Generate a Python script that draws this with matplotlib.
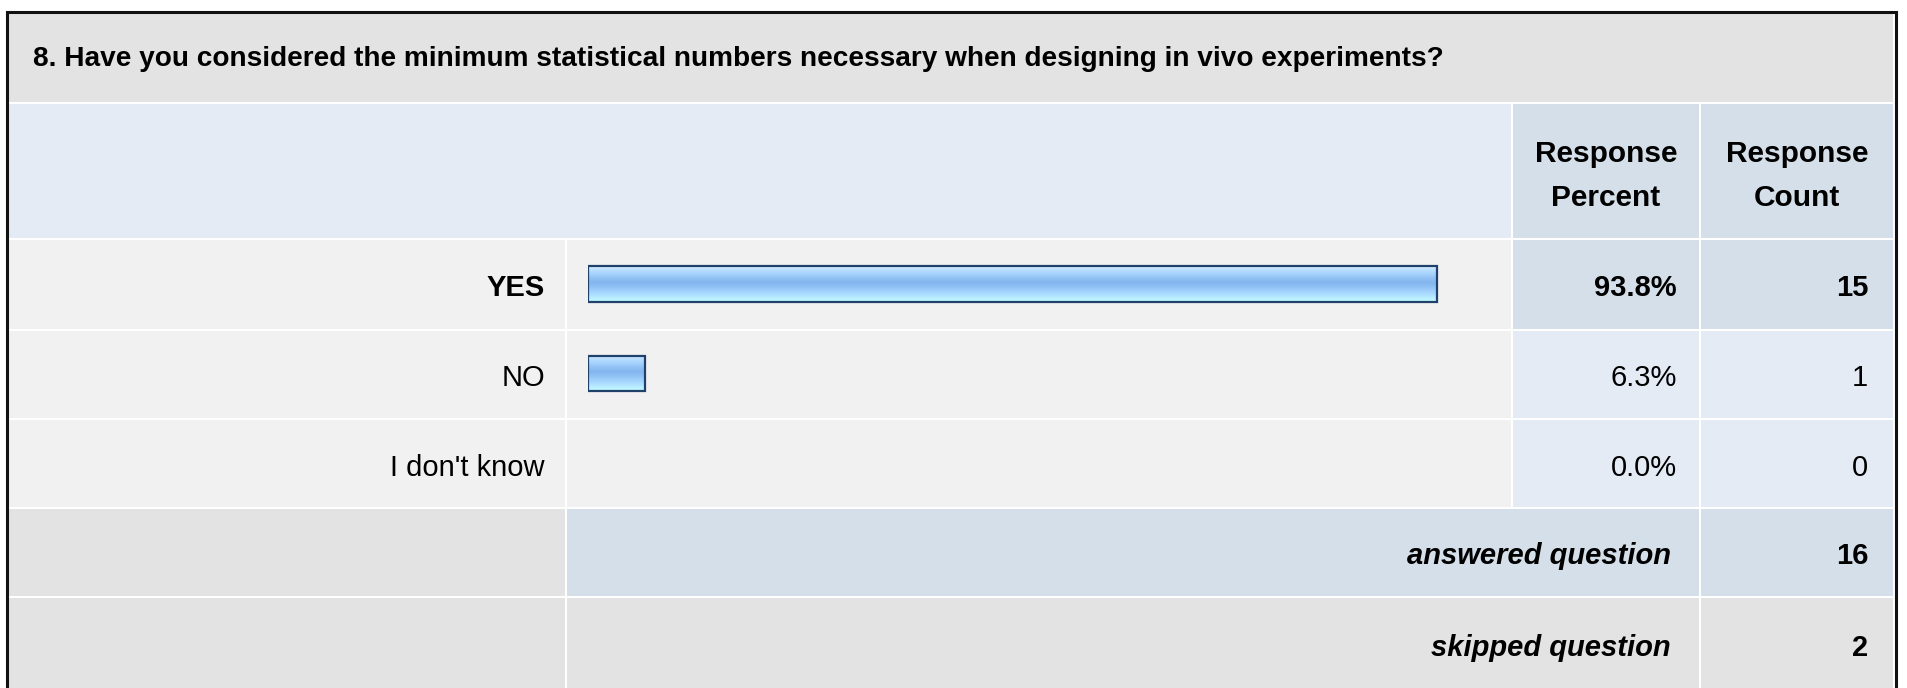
import numpy as np
import matplotlib.pyplot as plt
from matplotlib.patches import Rectangle
from matplotlib.colors import LinearSegmentedColormap

plt.rcParams['font.family'] = ['Liberation Sans', 'DejaVu Sans']

# survey data
question = "8. Have you considered the minimum statistical numbers necessary when designing in vivo experiments?"
answers = ["YES", "NO", "I don't know"]
percents = [93.8, 6.3, 0.0]
counts = [15, 1, 0]
header_pct = ["Response", "Percent"]
header_cnt = ["Response", "Count"]
summary_labels = ["answered question", "skipped question"]
summary_values = [16, 2]

W, H = 1907, 688
fig = plt.figure(figsize=(W / 100, H / 100), dpi=100)
ax = fig.add_axes([0, 0, 1, 1])
ax.set_xlim(0, W)
ax.set_ylim(H, 0)
ax.axis('off')

# table grid (pixels)
xs = [8, 566, 1512, 1700, 1894]
ys = [13, 103, 239, 330, 419, 508, 597, 690]

GRAY = '#e3e3e3'
ROW = '#f1f1f1'
LIGHT = '#e4ebf5'
DARK = '#d5dfe9'
FS = 21


def cell(x0, x1, y0, y1, color):
    ax.add_patch(Rectangle((x0 + 1, y0 + 1), x1 - x0 - 2, y1 - y0 - 2,
                           facecolor=color, edgecolor='none', zorder=1))


ax.add_patch(Rectangle((xs[0], ys[0]), xs[-1] - xs[0], ys[-1] - ys[0],
                       facecolor='white', edgecolor='none', zorder=0))

# title row
cell(xs[0], xs[4], ys[0], ys[1], GRAY)
ax.text(33, 66, question, fontsize=20.2, fontweight='bold',
        ha='left', va='baseline', zorder=3)

# header row
cell(xs[0], xs[2], ys[1], ys[2], LIGHT)
cell(xs[2], xs[3], ys[1], ys[2], DARK)
cell(xs[3], xs[4], ys[1], ys[2], DARK)
for i, (a, b) in enumerate(zip(header_pct, header_cnt)):
    yy = 162 + i * 44
    ax.text((xs[2] + xs[3]) / 2, yy, a, fontsize=21.5, fontweight='bold',
            ha='center', va='baseline', zorder=3)
    ax.text((xs[3] + xs[4]) / 2, yy, b, fontsize=21.5, fontweight='bold',
            ha='center', va='baseline', zorder=3)

# answer rows
top = int(np.argmax(counts))
for i, (lab, p, c) in enumerate(zip(answers, percents, counts)):
    y0, y1 = ys[2 + i], ys[3 + i]
    yb = (y0 + y1) / 2 + 12
    hi = i == top
    cell(xs[0], xs[1], y0, y1, ROW)
    cell(xs[1], xs[2], y0, y1, ROW)
    cell(xs[2], xs[3], y0, y1, DARK if hi else LIGHT)
    cell(xs[3], xs[4], y0, y1, DARK if hi else LIGHT)
    fw = 'bold' if hi else 'normal'
    ax.text(545, yb, lab, fontsize=FS, fontweight=fw, ha='right', va='baseline', zorder=3)
    ax.text(1677, yb, "{:.1f}%".format(p), fontsize=FS, fontweight=fw,
            ha='right', va='baseline', zorder=3)
    ax.text(1868, yb, str(c), fontsize=FS, fontweight=fw,
            ha='right', va='baseline', zorder=3)

# summary rows
for i, (lab, v) in enumerate(zip(summary_labels, summary_values)):
    y0, y1 = ys[5 + i], ys[6 + i]
    yb = (y0 + y1) / 2 + 12
    mid = DARK if i == 0 else GRAY
    cell(xs[0], xs[1], y0, y1, GRAY)
    cell(xs[1], xs[3], y0, y1, mid)
    cell(xs[3], xs[4], y0, y1, mid)
    ax.text(1671, yb, lab, fontsize=FS, fontweight='bold', fontstyle='italic',
            ha='right', va='baseline', zorder=3)
    ax.text(1868, yb, str(v), fontsize=FS, fontweight='bold',
            ha='right', va='baseline', zorder=3)

# outer frame
ax.plot([6.5, 6.5, 1895.5, 1895.5], [H + 2, 11.5, 11.5, H + 2],
        color='#111111', lw=2.2, solid_joinstyle='miter', zorder=4)

# bars
bar_ax = fig.add_axes([588 / W, 1 - ys[5] / H, 905 / W, (ys[5] - ys[2]) / H])
bar_ax.axis('off')
grad = LinearSegmentedColormap.from_list(
    'bar', ['#d8edff', '#b8ddff', '#a4d2fc', '#92c2f4', '#84b6ee', '#8cbef3',
            '#9cccfa', '#aadbff', '#b8edff', '#c4f9ff'])
bh = 0.4
for i, p in enumerate(percents):
    if p <= 0:
        continue
    b = bar_ax.barh(i, p, height=bh, facecolor='none', edgecolor='#1f416c',
                    linewidth=1.6, zorder=3)[0]
    im = bar_ax.imshow(np.linspace(0, 1, 64).reshape(-1, 1), cmap=grad, aspect='auto',
                       extent=[0, p, i + bh / 2, i - bh / 2], zorder=2,
                       interpolation='bilinear')
    im.set_clip_path(b)
bar_ax.set_xlim(0, 100)
bar_ax.set_ylim(len(answers) - 0.5, -0.5)

fig.savefig('out.png', dpi=100)
